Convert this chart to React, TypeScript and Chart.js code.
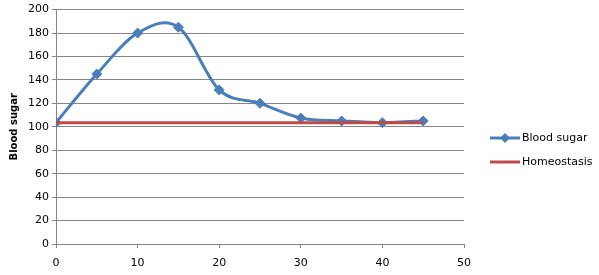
import React, { useEffect, useRef } from "react";
import { Chart, registerables } from "chart.js";

Chart.register(...registerables);

const timePoints = [0, 5, 10, 15, 20, 25, 30, 35, 40, 45];
const bloodSugar = [103.5, 145, 180, 185, 131.5, 120, 107.5, 105, 103.5, 105];
const homeostasis = [103.5, 103.5, 103.5, 103.5, 103.5, 103.5, 103.5, 103.5, 103.5, 103.5];
const seriesNames = ["Blood sugar", "Homeostasis"];
const yTitle = "Blood sugar";

const BLUE = "#4A7EBB";
const RED = "#BE4B48";
const GRID = "#868686";
const FONT = "'DejaVu Sans', Verdana, sans-serif";

// Excel-like smoothing: uniform Catmull-Rom control points on the library's point elements
const smoothPlugin = {
  id: "excelSmooth",
  beforeDatasetDraw(chart: any, args: any) {
    const meta = args.meta;
    if (meta.type !== "line" || !meta.dataset || !meta.dataset.options.tension) return;
    const line = meta.dataset;
    line.updateControlPoints(chart.chartArea, meta.iScale.axis);
    const pts = meta.data;
    const n = pts.length;
    for (let i = 0; i < n; i++) {
      const p = pts[i];
      const prev = pts[Math.max(0, i - 1)];
      const next = pts[Math.min(n - 1, i + 1)];
      const dx = (next.x - prev.x) / 6;
      const dy = (next.y - prev.y) / 6;
      p.cp1x = p.x - dx;
      p.cp1y = p.y - dy;
      p.cp2x = p.x + dx;
      p.cp2y = p.y + dy;
    }
  },
};

const legendPlugin = {
  id: "customLegend",
  afterDraw(chart: any) {
    const ctx = chart.ctx;
    ctx.save();
    const x0 = 490;
    const items = [
      { y: 138, color: BLUE, marker: true, label: seriesNames[0] },
      { y: 162, color: RED, marker: false, label: seriesNames[1] },
    ];
    items.forEach((it) => {
      ctx.strokeStyle = it.color;
      ctx.lineWidth = 3;
      ctx.beginPath();
      ctx.moveTo(x0, it.y);
      ctx.lineTo(x0 + 30, it.y);
      ctx.stroke();
      if (it.marker) {
        ctx.fillStyle = it.color;
        ctx.beginPath();
        const cx = x0 + 15;
        const r = 5;
        ctx.moveTo(cx, it.y - r);
        ctx.lineTo(cx + r, it.y);
        ctx.lineTo(cx, it.y + r);
        ctx.lineTo(cx - r, it.y);
        ctx.closePath();
        ctx.fill();
      }
      ctx.fillStyle = "#000";
      ctx.font = `11px ${FONT}`;
      ctx.textBaseline = "middle";
      ctx.textAlign = "left";
      ctx.fillText(it.label, x0 + 32, it.y);
    });
    ctx.restore();
  },
};

export default function App() {
  const ref = useRef<HTMLCanvasElement>(null);
  useEffect(() => {
    document.body.style.margin = "0";
    const chart = new Chart(ref.current!, {
      type: "line",
      data: {
        datasets: [
          {
            label: seriesNames[0],
            data: timePoints.map((t, i) => ({ x: t, y: bloodSugar[i] })),
            borderColor: BLUE,
            backgroundColor: BLUE,
            borderWidth: 3,
            tension: 0.4,
            pointStyle: "rectRot",
            pointRadius: 5,
            pointBorderWidth: 1,
            pointBackgroundColor: BLUE,
            pointBorderColor: BLUE,
            order: 2,
          },
          {
            label: seriesNames[1],
            data: timePoints.map((t, i) => ({ x: t, y: homeostasis[i] })),
            borderColor: RED,
            backgroundColor: RED,
            borderWidth: 3,
            pointRadius: 0,
            tension: 0,
            order: 1,
          },
        ],
      },
      options: {
        animation: false,
        responsive: false,
        devicePixelRatio: 1,
        layout: { padding: { left: 8, right: 135, top: 4, bottom: 0 } },
        plugins: { legend: { display: false }, tooltip: { enabled: false } },
        scales: {
          x: {
            type: "linear",
            min: 0,
            max: 50,
            ticks: { stepSize: 10, color: "#000", font: { family: FONT, size: 11 }, padding: 9, maxRotation: 0 },
            grid: { drawOnChartArea: false, drawTicks: true, tickLength: 4, color: GRID },
            border: { color: GRID, width: 1 },
            afterFit: (s: any) => { s.height = 31; },
          },
          y: {
            min: 0,
            max: 200,
            ticks: { stepSize: 20, color: "#000", font: { family: FONT, size: 11 }, padding: 3 },
            grid: { color: GRID, tickLength: 4, lineWidth: 1 },
            border: { color: GRID, width: 1 },
            title: { display: true, text: yTitle, color: "#000", font: { family: FONT, size: 10, weight: "bold" }, padding: 0 },
            afterFit: (s: any) => { s.width = 48; },
          },
        },
      },
      plugins: [smoothPlugin, legendPlugin],
    });
    return () => chart.destroy();
  }, []);
  return <canvas ref={ref} width={599} height={275} style={{ display: "block" }} />;
}
